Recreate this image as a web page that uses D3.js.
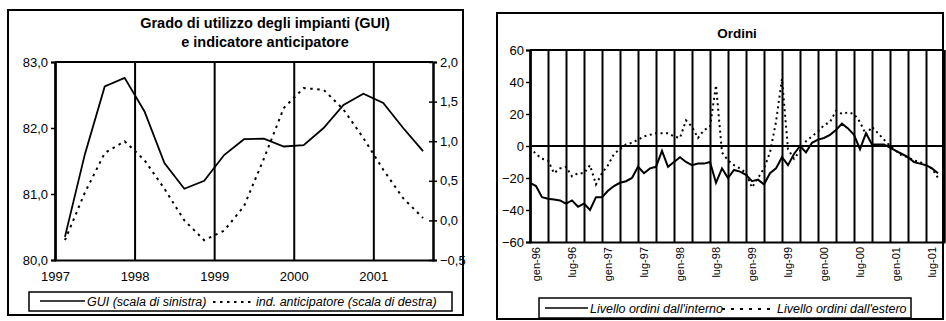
<!DOCTYPE html>
<html>
<head>
<meta charset="utf-8">
<script src="https://cdnjs.cloudflare.com/ajax/libs/d3/7.8.5/d3.min.js"></script>
<style>
  html, body { margin: 0; padding: 0; background: #fff; }
  svg { display: block; font-family: "Liberation Sans", Arial, sans-serif; }
  .axis path, .axis line { stroke: #000; }
  .axis text { fill: #000; }
</style>
</head>
<body>
<svg id="chart" width="946" height="321"></svg>
<script>
// ---- Left panel: capacity utilisation (GUI) and leading indicator, quarterly 1997Q1-2001Q3
const years = [1997, 1998, 1999, 2000, 2001];
const guiLeftTicks = [80, 81, 82, 83];
const indRightTicks = [-0.5, 0, 0.5, 1.0, 1.5, 2.0];
const guiQuarterly = [80.35, 81.6, 82.63, 82.76, 82.25, 81.47, 81.08, 81.2, 81.59, 81.83,
                      81.84, 81.72, 81.74, 82.0, 82.35, 82.52, 82.38, 82.0, 81.65];
const indicatorQuarterly = [-0.25, 0.35, 0.85, 1.0, 0.76, 0.4, 0.0, -0.25, -0.13, 0.18,
                            0.78, 1.42, 1.67, 1.65, 1.4, 1.04, 0.64, 0.28, 0.03];

// ---- Right panel: orders, monthly dic-95 .. ago-01
const monthTickLabels = ["gen-96", "lug-96", "gen-97", "lug-97", "gen-98", "lug-98",
                         "gen-99", "lug-99", "gen-00", "lug-00", "gen-01", "lug-01"];
const ordersTicks = [-60, -40, -20, 0, 20, 40, 60];
const ordiniInterno = [-23, -25, -32, -33, -33.5, -34, -36, -34, -38, -36,
                       -40, -32, -32, -28, -25, -23, -22, -20, -13, -17,
                       -14, -13, -3, -13, -10, -7, -10, -12, -11, -11,
                       -10, -23, -14, -20, -15, -16, -18, -22, -21, -24,
                       -17, -14, -7, -12, -5, 0, -4, 2, 4, 5,
                       7, 10, 14, 11, 7, -2, 8, 1, 1, 1,
                       -1, -3, -5, -7, -10, -11, -12, -14, -17];
const ordiniEstero = [-1, -5, -8, -9, -17, -14, -13, -19, -17, -17,
                      -12, -24, -17, -12, -5, -2, 1, 2, 4, 6,
                      7, 8, 8, 8, 6, 5, 16, 12, 5, 10,
                      12, 38, -4, -9, -12, -14, -17, -26, -20, -14,
                      -4, 15, 42, -2, -8, -3, 3, 6, 9, 13,
                      15, 22, 20, 21, 20, 15, 7, 12, 8, 4,
                      0, -3, -6, -7, -9, -10, -12, -14, -20];

const svg = d3.select("#chart");
const comma = f => v => f(v).replace(".", ",");

// ================= LEFT PANEL =================
const L = svg.append("g");
L.append("rect").attr("x", 8).attr("y", 10).attr("width", 455).attr("height", 305)
  .attr("fill", "none").attr("stroke", "#000").attr("stroke-width", 2);

L.append("text").attr("x", 265).attr("y", 28).attr("text-anchor", "middle")
  .attr("font-weight", "bold").attr("font-size", 14.5).text("Grado di utilizzo degli impianti (GUI)");
L.append("text").attr("x", 265).attr("y", 47).attr("text-anchor", "middle")
  .attr("font-weight", "bold").attr("font-size", 14.5).text("e indicatore anticipatore");

const xL = d3.scaleLinear().domain([1997, 2001.75]).range([55, 433]);
const yGui = d3.scaleLinear().domain([80, 83]).range([260, 62]);
const yInd = d3.scaleLinear().domain([-0.5, 2.0]).range([260, 62]);
const qTime = i => 1997 + (i + 0.5) / 4;

// year gridlines and frame
L.append("g").attr("class", "axis")
  .attr("transform", "translate(0,260)")
  .call(d3.axisBottom(xL).tickValues(years).tickSize(-198).tickFormat(d3.format("d")).tickPadding(12))
  .call(g => g.selectAll("line").attr("stroke-width", 2))
  .call(g => g.select(".domain").attr("stroke-width", 2))
  .call(g => g.selectAll("text").attr("font-size", 13));
L.append("line").attr("x1", 55).attr("x2", 433).attr("y1", 62).attr("y2", 62)
  .attr("stroke", "#000").attr("stroke-width", 2);

L.append("g").attr("class", "axis").attr("transform", "translate(55,0)")
  .call(d3.axisLeft(yGui).tickValues(guiLeftTicks).tickSize(4).tickFormat(comma(d3.format(".1f"))))
  .call(g => g.select(".domain").attr("stroke-width", 2))
  .call(g => g.selectAll("line").attr("stroke-width", 1.5))
  .call(g => g.selectAll("text").attr("font-size", 13));

const rAxis = L.append("g").attr("class", "axis").attr("transform", "translate(433,0)")
  .call(d3.axisRight(yInd).tickValues(indRightTicks).tickSize(4).tickFormat(comma(d3.format(".1f"))))
  .call(g => g.select(".domain").attr("stroke-width", 2))
  .call(g => g.selectAll("line").attr("stroke-width", 1.5).attr("x1", -4))
  .call(g => g.selectAll("text").attr("font-size", 13));

L.append("path").datum(guiQuarterly)
  .attr("fill", "none").attr("stroke", "#000").attr("stroke-width", 1.8)
  .attr("d", d3.line().x((d, i) => xL(qTime(i))).y(d => yGui(d)));
L.append("path").datum(indicatorQuarterly)
  .attr("fill", "none").attr("stroke", "#000").attr("stroke-width", 2)
  .attr("stroke-dasharray", "2.5,4.5")
  .attr("d", d3.line().x((d, i) => xL(qTime(i))).y(d => yInd(d)));

// legend
L.append("rect").attr("x", 29).attr("y", 292).attr("width", 423).attr("height", 19)
  .attr("fill", "none").attr("stroke", "#000").attr("stroke-width", 1.5);
L.append("line").attr("x1", 40).attr("x2", 85).attr("y1", 301).attr("y2", 301)
  .attr("stroke", "#000").attr("stroke-width", 1.5);
L.append("text").attr("x", 87).attr("y", 306).attr("font-style", "italic").attr("font-size", 12.5)
  .text("GUI (scala di sinistra)");
L.append("line").attr("x1", 213).attr("x2", 253).attr("y1", 302).attr("y2", 302)
  .attr("stroke", "#000").attr("stroke-width", 2).attr("stroke-dasharray", "2.5,4.5");
L.append("text").attr("x", 256).attr("y", 306).attr("font-style", "italic").attr("font-size", 12.5)
  .text("ind. anticipatore (scala di destra)");

// ================= RIGHT PANEL =================
const R = svg.append("g");
R.append("rect").attr("x", 497).attr("y", 13).attr("width", 446).attr("height", 306)
  .attr("fill", "none").attr("stroke", "#000").attr("stroke-width", 2);

const xR = d3.scaleLinear().domain([0, 69]).range([530, 944]);
const yR = d3.scaleLinear().domain([-60, 60]).range([242, 50]);

R.append("text").attr("x", 737).attr("y", 38).attr("text-anchor", "middle")
  .attr("font-weight", "bold").attr("font-size", 13.5).text("Ordini");

// quarterly gridlines
R.append("g").attr("class", "axis").attr("transform", "translate(0,242)")
  .call(d3.axisBottom(xR).tickValues(d3.range(0, 70, 3)).tickSize(-192).tickFormat(""))
  .call(g => g.selectAll("line").attr("stroke-width", 2))
  .call(g => g.select(".domain").attr("stroke-width", 2));

// six-monthly category labels, rotated
R.append("g").attr("class", "axis").attr("transform", "translate(0,242)")
  .call(d3.axisBottom(xR).tickValues(d3.range(1, 70, 6)).tickSize(0)
        .tickFormat((d, i) => monthTickLabels[i]))
  .call(g => g.select(".domain").remove())
  .call(g => g.selectAll("text")
     .attr("font-size", 11)
     .attr("text-anchor", "end")
     .attr("transform", "rotate(-90)")
     .attr("x", -5).attr("y", 0).attr("dy", "0.35em"));

R.append("line").attr("x1", 530).attr("x2", 944).attr("y1", 50).attr("y2", 50)
  .attr("stroke", "#000").attr("stroke-width", 2);
R.append("line").attr("x1", 530).attr("x2", 944).attr("y1", yR(0)).attr("y2", yR(0))
  .attr("stroke", "#000").attr("stroke-width", 2);

R.append("g").attr("class", "axis").attr("transform", "translate(530,0)")
  .call(d3.axisLeft(yR).tickValues(ordersTicks).tickSize(4))
  .call(g => g.select(".domain").attr("stroke-width", 2))
  .call(g => g.selectAll("line").attr("stroke-width", 1.5))
  .call(g => g.selectAll("text").attr("font-size", 13).attr("dx", 1));

R.append("path").datum(ordiniInterno)
  .attr("fill", "none").attr("stroke", "#000").attr("stroke-width", 2)
  .attr("d", d3.line().x((d, i) => xR(i)).y(d => yR(d)));
R.append("path").datum(ordiniEstero)
  .attr("fill", "none").attr("stroke", "#000").attr("stroke-width", 2)
  .attr("stroke-dasharray", "2,3.5")
  .attr("d", d3.line().x((d, i) => xR(i)).y(d => yR(d)));

// legend
R.append("rect").attr("x", 539).attr("y", 298).attr("width", 372).attr("height", 20)
  .attr("fill", "none").attr("stroke", "#000").attr("stroke-width", 1.5);
R.append("line").attr("x1", 545).attr("x2", 588).attr("y1", 308).attr("y2", 308)
  .attr("stroke", "#000").attr("stroke-width", 1.5);
R.append("text").attr("x", 590).attr("y", 313).attr("font-style", "italic").attr("font-size", 12.5)
  .text("Livello ordini dall'interno");
R.append("line").attr("x1", 722).attr("x2", 770).attr("y1", 309).attr("y2", 309)
  .attr("stroke", "#000").attr("stroke-width", 2).attr("stroke-dasharray", "3,6");
R.append("text").attr("x", 777).attr("y", 313).attr("font-style", "italic").attr("font-size", 12.5)
  .text("Livello ordini dall'estero");
</script>
</body>
</html>
